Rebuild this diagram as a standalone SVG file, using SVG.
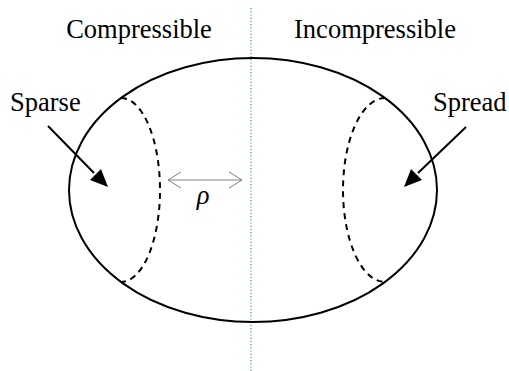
<svg xmlns="http://www.w3.org/2000/svg" width="509" height="371" viewBox="0 0 509 371">
<style>
.lbl{font-family:"Liberation Serif","Times New Roman",serif;font-size:26.5px;fill:#000}
.solid{fill:none;stroke:#000;stroke-width:2}
.dash{fill:none;stroke:#000;stroke-width:2;stroke-dasharray:6,5}
.arrow{stroke:#000;stroke-width:2;fill:none}
.thin{stroke:#808080;stroke-width:1;fill:none}
</style>
<g id="divider">
<line x1="251" y1="8" x2="251" y2="371" stroke="#3e9a7a" stroke-width="1.2" stroke-dasharray="1.2,2"/>
</g>
<g id="body">
<ellipse class="solid" cx="253" cy="190" rx="184" ry="132"/>
<path class="dash" d="M121,98 A39,92 0 0 1 121,282"/>
<path class="dash" d="M385,98 A42,92 0 0 0 385,282"/>
</g>
<g id="labels">
<text class="lbl" x="139" y="38" text-anchor="middle">Compressible</text>
<text class="lbl" x="375" y="38" text-anchor="middle">Incompressible</text>
<text class="lbl" x="10" y="111">Sparse</text>
<text class="lbl" x="433" y="111">Spread</text>
<text class="lbl" x="203" y="204" text-anchor="middle" font-style="italic">ρ</text>
</g>
<g id="connectors">
<line class="arrow" x1="48" y1="126" x2="94" y2="173"/>
<path d="M108,187 L90,180 L101,169 Z" fill="#000"/>
<line class="arrow" x1="466" y1="127" x2="418" y2="173"/>
<path d="M404,187 L411,169 L422,180 Z" fill="#000"/>
<g id="rho-arrow">
<line class="thin" x1="168" y1="180" x2="242" y2="180"/>
<polyline class="thin" points="181,172 168,180 181,188"/>
<polyline class="thin" points="229,172 242,180 229,188"/>
</g>
</g>
</svg>
